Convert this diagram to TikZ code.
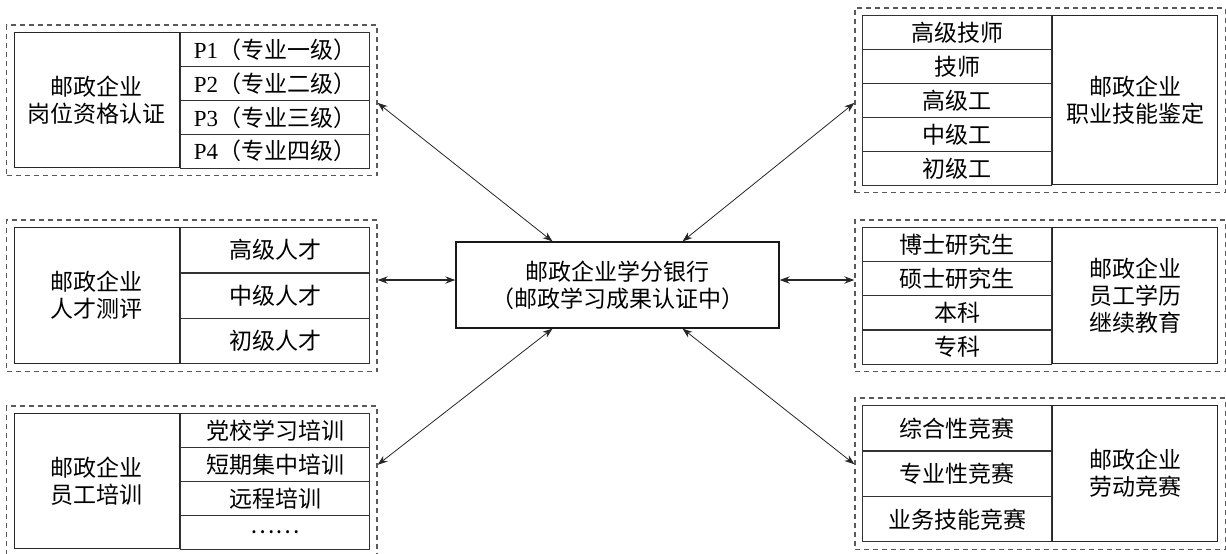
\documentclass[tikz,border=0pt]{standalone}
\usepackage{fontspec}
\setmainfont{Noto Sans CJK SC}
\newfontfamily\latin{Liberation Serif}
\usetikzlibrary{matrix,fit,positioning,arrows.meta}
\tikzset{
  items/.style={
    matrix of nodes,
    inner sep=0pt, outer sep=0pt,
    anchor=north west,
    row sep=-\pgflinewidth,
    nodes={draw=black!80, line width=0.5pt, minimum width=94.5pt, minimum height=#1, inner sep=0pt, anchor=center},
  },
  tag/.style={draw=black!85, line width=0.6pt, minimum width=82.5pt, minimum height=#1, inner sep=0pt, align=center},
  group/.style={draw=black!65, line width=0.6pt, dash pattern=on 2.5pt off 2pt, inner sep=3.5pt},
  bank/.style={draw=black!90, line width=0.6pt, minimum width=161.5pt, minimum height=43pt, align=center},
  link/.style={{Stealth[length=5pt,width=3.6pt]}-{Stealth[length=5pt,width=3.6pt]}, line width=0.4pt, black!85},
  thick link/.style={link, line width=0.9pt},
}

\begin{document}
\begin{tikzpicture}[x=0.5pt, y=-0.5pt, font=\fontsize{11.5}{13.5}\selectfont]
  \useasboundingbox (0,0) rectangle (1226,553);

  % left column
  \matrix (cert) [items=16.875pt] at (180,32) {
    {\latin P1}（专业一级） \\
    {\latin P2}（专业二级） \\
    {\latin P3}（专业三级） \\
    {\latin P4}（专业四级） \\
  };
  \node[tag=67.5pt, anchor=north east] (certtag) at (cert.north west) {邮政企业\\岗位资格认证};
  \node[group, fit=(certtag)(cert)] (certbox) {};

  \matrix (talent) [items=22.67pt] at (180,227) {
    高级人才 \\
    中级人才 \\
    初级人才 \\
  };
  \node[tag=68pt, anchor=north east] (talenttag) at (talent.north west) {邮政企业\\人才测评};
  \node[group, fit=(talenttag)(talent)] (talentbox) {};

  \matrix (train) [items=16.875pt] at (180,413) {
    党校学习培训 \\
    短期集中培训 \\
    远程培训 \\
    …… \\
  };
  \node[tag=67.5pt, anchor=north east] (traintag) at (train.north west) {邮政企业\\员工培训};
  \node[group, fit=(traintag)(train)] (trainbox) {};

  % right column
  \matrix (skill) [items=16.9pt] at (862,15) {
    高级技师 \\
    技师 \\
    高级工 \\
    中级工 \\
    初级工 \\
  };
  \node[tag=84.5pt, anchor=north west] (skilltag) at (skill.north east) {邮政企业\\职业技能鉴定};
  \node[group, fit=(skilltag)(skill)] (skillbox) {};

  \matrix (degree) [items=17pt] at (862,227) {
    博士研究生 \\
    硕士研究生 \\
    本科 \\
    专科 \\
  };
  \node[tag=68pt, anchor=north west] (degreetag) at (degree.north east) {邮政企业\\员工学历\\继续教育};
  \node[group, fit=(degreetag)(degree)] (degreebox) {};

  \matrix (contest) [items=22.67pt] at (862,405) {
    综合性竞赛 \\
    专业性竞赛 \\
    业务技能竞赛 \\
  };
  \node[tag=68pt, anchor=north west] (contesttag) at (contest.north east) {邮政企业\\劳动竞赛};
  \node[group, fit=(contesttag)(contest)] (contestbox) {};

  % centre
  \node[bank] (bank) at (617.5,285) {邮政企业学分银行\\（邮政学习成果认证中）};

  \draw[link] ([yshift=-1.25pt]certbox.east) -- ([xshift=-32.5pt]bank.north);
  \draw[link] ([yshift=-1.25pt]skillbox.west) -- ([xshift=32.5pt]bank.north);
  \draw[link] ([yshift=8.25pt]trainbox.east) -- ([xshift=-32.5pt]bank.south);
  \draw[link] ([yshift=4.75pt]contestbox.west) -- ([xshift=32.5pt]bank.south);
  \draw[thick link] ([yshift=2.5pt]bank.west) -- ([yshift=2.5pt]bank.west -| talentbox.east);
  \draw[thick link] ([yshift=2.5pt]bank.east) -- ([yshift=2.5pt]bank.east -| degreebox.west);
\end{tikzpicture}
\end{document}
